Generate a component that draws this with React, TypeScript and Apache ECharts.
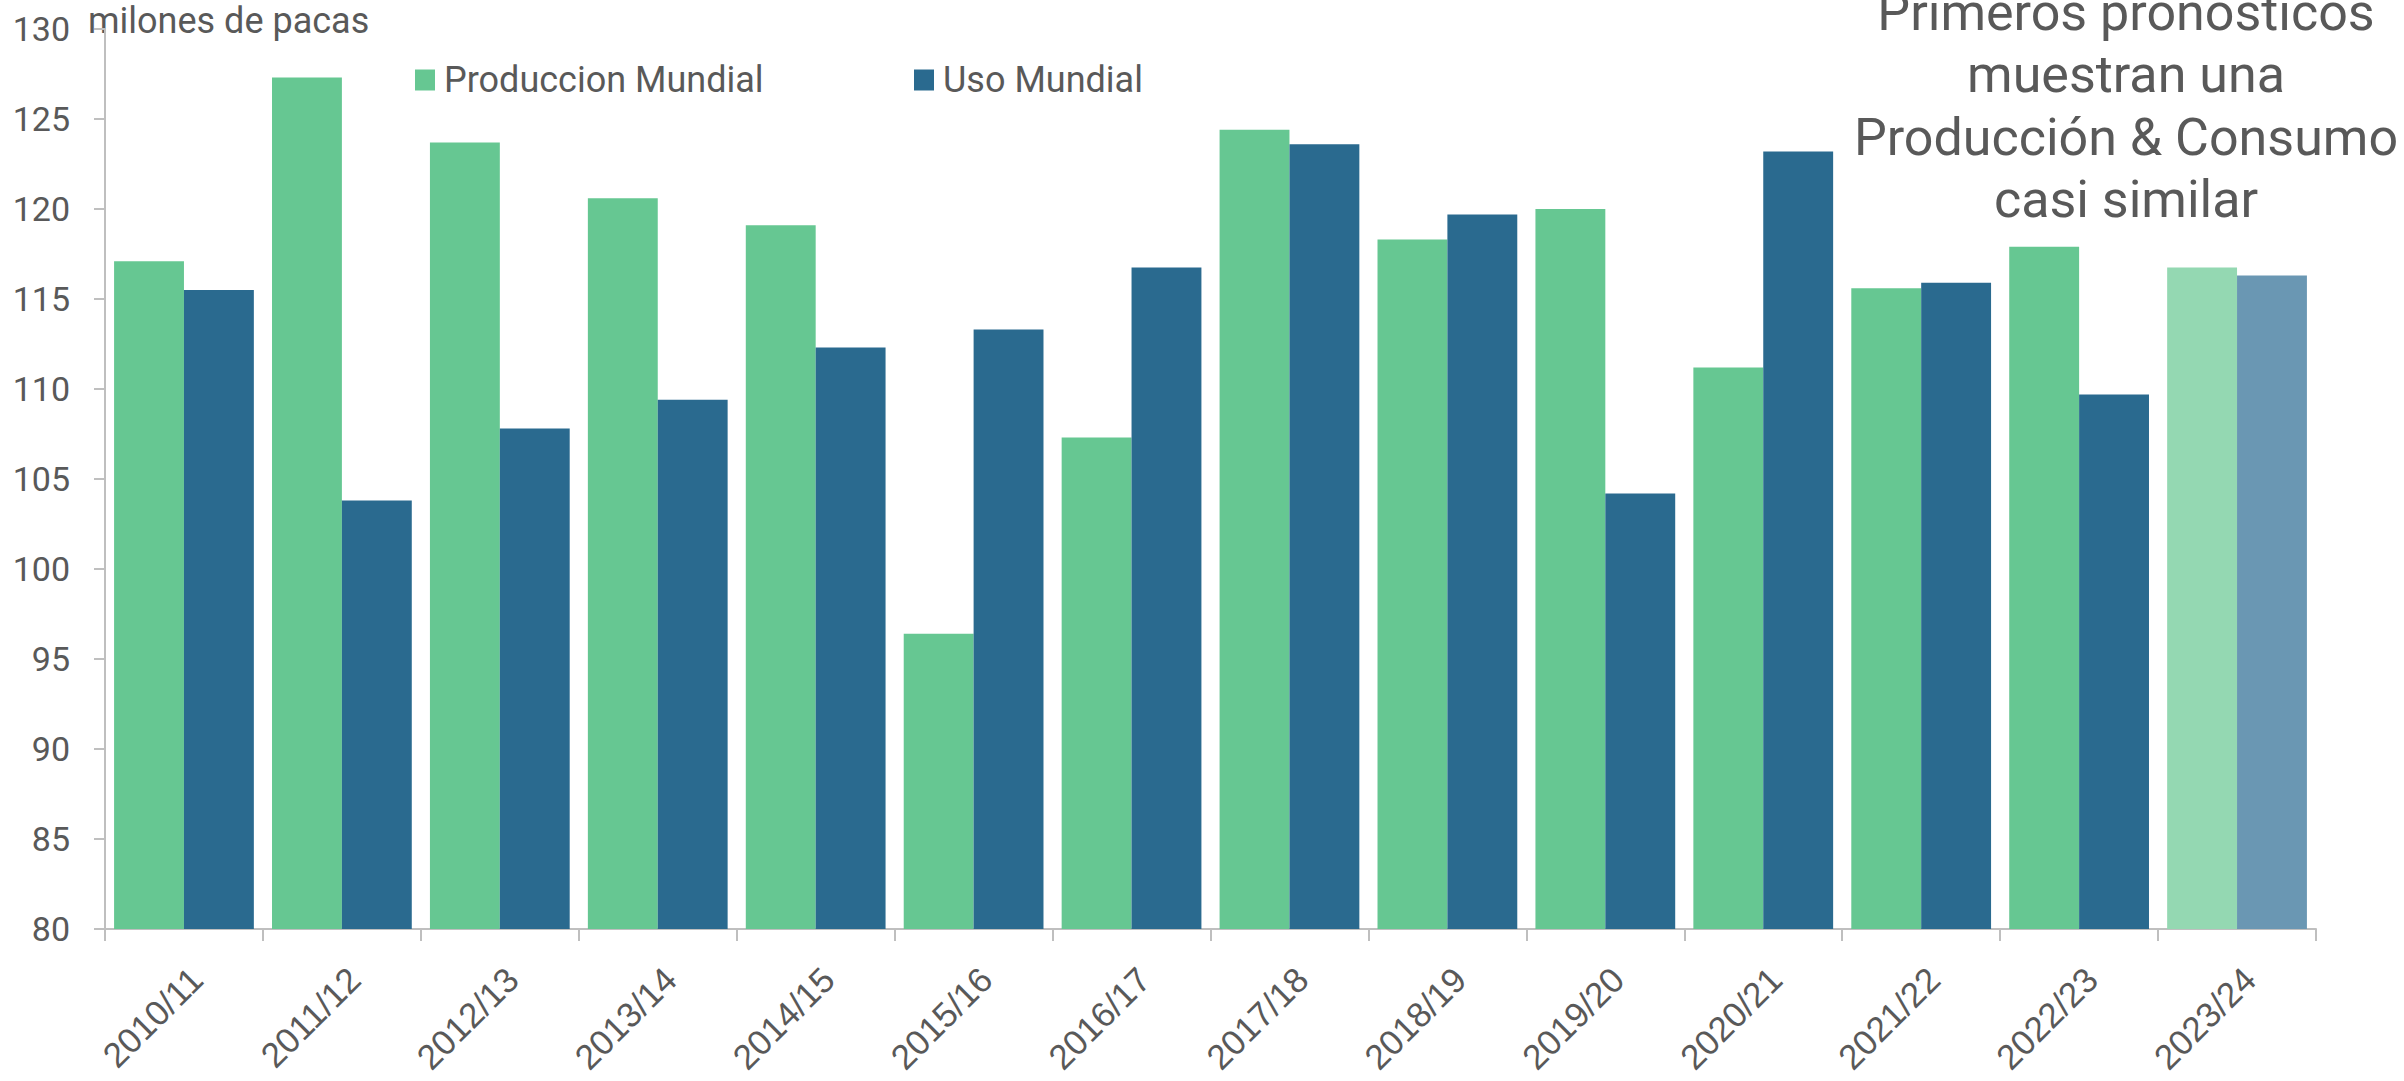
import React, { useEffect, useRef } from "react";
import * as echarts from "echarts";

const categories = [
  "2010/11", "2011/12", "2012/13", "2013/14", "2014/15", "2015/16", "2016/17",
  "2017/18", "2018/19", "2019/20", "2020/21", "2021/22", "2022/23", "2023/24",
];
const produccion = [117.1, 127.3, 123.7, 120.6, 119.1, 96.4, 107.3, 124.4, 118.3, 120.0, 111.2, 115.6, 117.9, 116.75];
const uso = [115.5, 103.8, 107.8, 109.4, 112.3, 113.3, 116.75, 123.6, 119.7, 104.2, 123.2, 115.9, 109.7, 116.3];
const yTicks = { min: 80, max: 130, interval: 5 };
const annotationLines = ["Primeros pronosticos", "muestran una", "Producción & Consumo", "casi similar"];

const GREEN = "#66C792";
const BLUE = "#2A6A8F";
const GREEN_LIGHT = "#94D8B2";
const BLUE_LIGHT = "#6A97B3";
const TEXT = "#595959";
const AXIS = "#BFBFBF";

export default function App() {
  const ref = useRef<HTMLDivElement>(null);
  useEffect(() => {
    if (!ref.current) return;
    const chart = echarts.init(ref.current, null, { renderer: "svg" });
    const last = categories.length - 1;
    const legendText = { color: TEXT, fontSize: 36, fontFamily: "Roboto", padding: [0, 0, 0, 4] };
    chart.setOption({
      animation: false,
      backgroundColor: "#ffffff",
      textStyle: { fontFamily: "Roboto" },
      grid: { left: 105, right: 88, top: 29, bottom: 152, containLabel: false, outerBoundsMode: "none" },
      legend: [
        {
          left: 410, top: 57, icon: "rect", itemWidth: 20, itemHeight: 21,
          data: ["Produccion Mundial"], textStyle: legendText,
        },
        {
          left: 909, top: 57, icon: "rect", itemWidth: 20, itemHeight: 21,
          data: ["Uso Mundial"], textStyle: legendText,
        },
      ],
      xAxis: {
        type: "category",
        data: categories,
        axisLine: { lineStyle: { color: AXIS, width: 2 } },
        axisTick: { show: true, length: 12, lineStyle: { color: AXIS, width: 2 } },
        axisLabel: {
          rotate: 45, color: TEXT, fontSize: 35, margin: 32, fontFamily: "Liberation Sans",
          interval: 0, align: "right", verticalAlign: "top",
        },
      },
      yAxis: {
        type: "value",
        min: yTicks.min,
        max: yTicks.max,
        interval: yTicks.interval,
        splitLine: { show: false },
        axisLine: { show: true, lineStyle: { color: AXIS, width: 2 } },
        axisTick: { show: true, length: 11, lineStyle: { color: AXIS, width: 2 } },
        axisLabel: { color: TEXT, fontSize: 34, margin: 35, fontFamily: "Roboto" },
      },
      graphic: [
        {
          type: "text", x: 88, y: 21,
          style: { text: "milones de pacas", fill: TEXT, font: "36px Roboto", verticalAlign: "middle" },
        },
        {
          type: "text", x: 2126, y: -19,
          style: {
            text: annotationLines.join("\n"), fill: TEXT, font: "52px Roboto",
            align: "center", verticalAlign: "top", lineHeight: 62.5,
          },
        },
      ],
      series: [
        {
          name: "Produccion Mundial",
          type: "bar",
          barGap: "0%",
          barCategoryGap: "11.5%",
          itemStyle: { color: GREEN },
          data: produccion.map((v, i) => (i === last ? { value: v, itemStyle: { color: GREEN_LIGHT } } : v)),
        },
        {
          name: "Uso Mundial",
          type: "bar",
          barGap: "0%",
          barCategoryGap: "11.5%",
          itemStyle: { color: BLUE },
          data: uso.map((v, i) => (i === last ? { value: v, itemStyle: { color: BLUE_LIGHT } } : v)),
        },
      ],
    });
    return () => chart.dispose();
  }, []);
  return <div ref={ref} style={{ position: "fixed", left: 0, top: 0, width: 2404, height: 1081 }} />;
}
